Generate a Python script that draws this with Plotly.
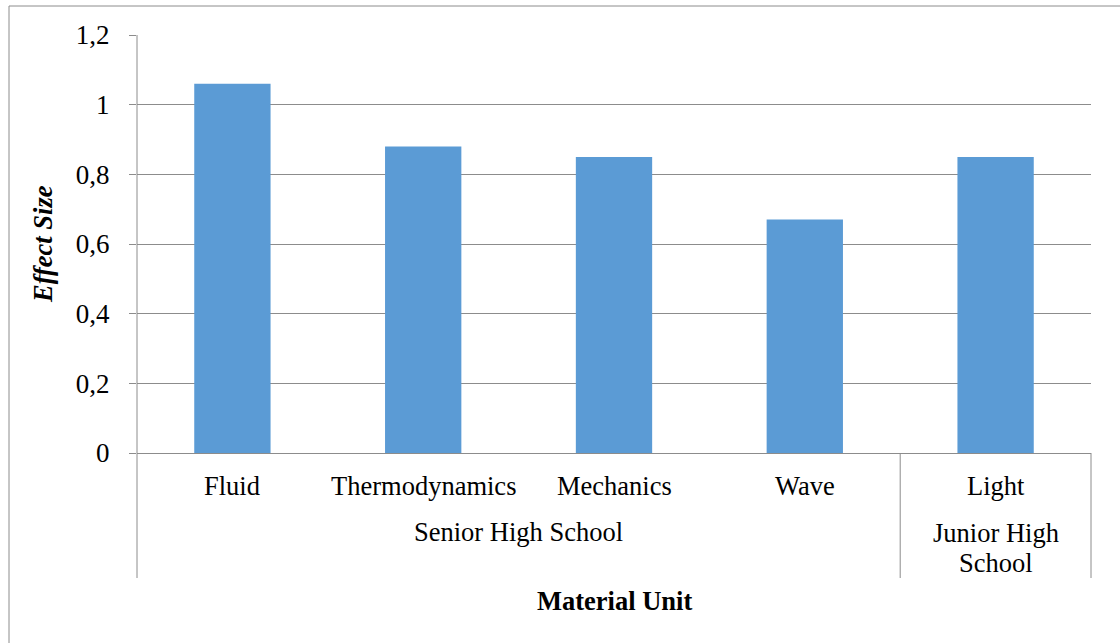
import plotly.graph_objects as go

categories = ["Fluid", "Thermodynamics", "Mechanics", "Wave", "Light"]
values = [1.06, 0.88, 0.85, 0.67, 0.85]
groups = ["Senior High School", "Junior High School"]
group_centers = [1.5, 4]
y_ticks = [0, 0.2, 0.4, 0.6, 0.8, 1.0, 1.2]

FONT = "Liberation Serif"
GRID = "#8c8c8c"
FS = 26.5

fig = go.Figure()
fig.add_trace(go.Bar(x=categories, y=values, marker=dict(color="#5B9BD5", line=dict(width=0)), width=0.4))

fig.update_layout(
    width=1120, height=643,
    margin=dict(l=137, r=29, t=35, b=190),
    plot_bgcolor="white", paper_bgcolor="white",
    separators=",.",
    showlegend=False,
    font=dict(family=FONT, size=FS, color="black"),
    xaxis=dict(showticklabels=False, ticks="", showline=True, linecolor=GRID, linewidth=1,
               range=[-0.5, 4.5], showgrid=False, zeroline=False),
    yaxis=dict(range=[0, 1.2], tickvals=y_ticks, showgrid=True, gridcolor=GRID, gridwidth=1,
               ticks="outside", ticklen=7, tickcolor=GRID, showline=False, zeroline=False,
               ticklabelstandoff=14,
               tickfont=dict(family=FONT, size=27, color="black")),
)

px_per_paper = 418.0
def py(ypix):
    return (453 - ypix) / px_per_paper

def txt(x, yp, text, xref="x"):
    return dict(x=x, y=py(yp), xref=xref, yref="paper", text=text, showarrow=False,
                font=dict(family=FONT, size=FS, color="black"), yanchor="middle")

annotations = [txt(c, 486, c) for c in categories]
annotations.append(txt(group_centers[0], 532, groups[0]))
jr_words = groups[1].rsplit(" ", 1)
annotations.append(txt(group_centers[1], 533, jr_words[0]))
annotations.append(txt(group_centers[1], 563, jr_words[1]))
annotations.append(txt(0.5, 601, "<b>Material Unit</b>", xref="paper"))
annotations.append(dict(x=(43 - 137) / 954.0, y=0.5, xref="paper", yref="paper", text="<b><i>Effect Size</i></b>",
                        showarrow=False, textangle=-90, font=dict(family=FONT, size=FS, color="black"),
                        xanchor="center", yanchor="middle"))
fig.update_layout(annotations=annotations)

bottom = py(578)
shapes = [
    dict(type="line", xref="paper", yref="paper", x0=0, x1=0, y0=1, y1=bottom, line=dict(color=GRID, width=1)),
    dict(type="line", xref="x", yref="paper", x0=3.5, x1=3.5, y0=0, y1=bottom, line=dict(color=GRID, width=1)),
    dict(type="line", xref="paper", yref="paper", x0=1, x1=1, y0=0, y1=bottom, line=dict(color=GRID, width=1)),
    dict(type="line", xref="paper", yref="paper", x0=(9 - 137) / 954.0, x1=(9 - 137) / 954.0, y0=py(6), y1=py(660),
         line=dict(color=GRID, width=1)),
    dict(type="line", xref="paper", yref="paper", x0=(9 - 137) / 954.0, x1=(1130 - 137) / 954.0, y0=py(6), y1=py(6),
         line=dict(color=GRID, width=1)),
]
fig.update_layout(shapes=shapes)

fig.write_html("out.html", config={"displayModeBar": False},
               post_script="document.body.style.margin='0';")
